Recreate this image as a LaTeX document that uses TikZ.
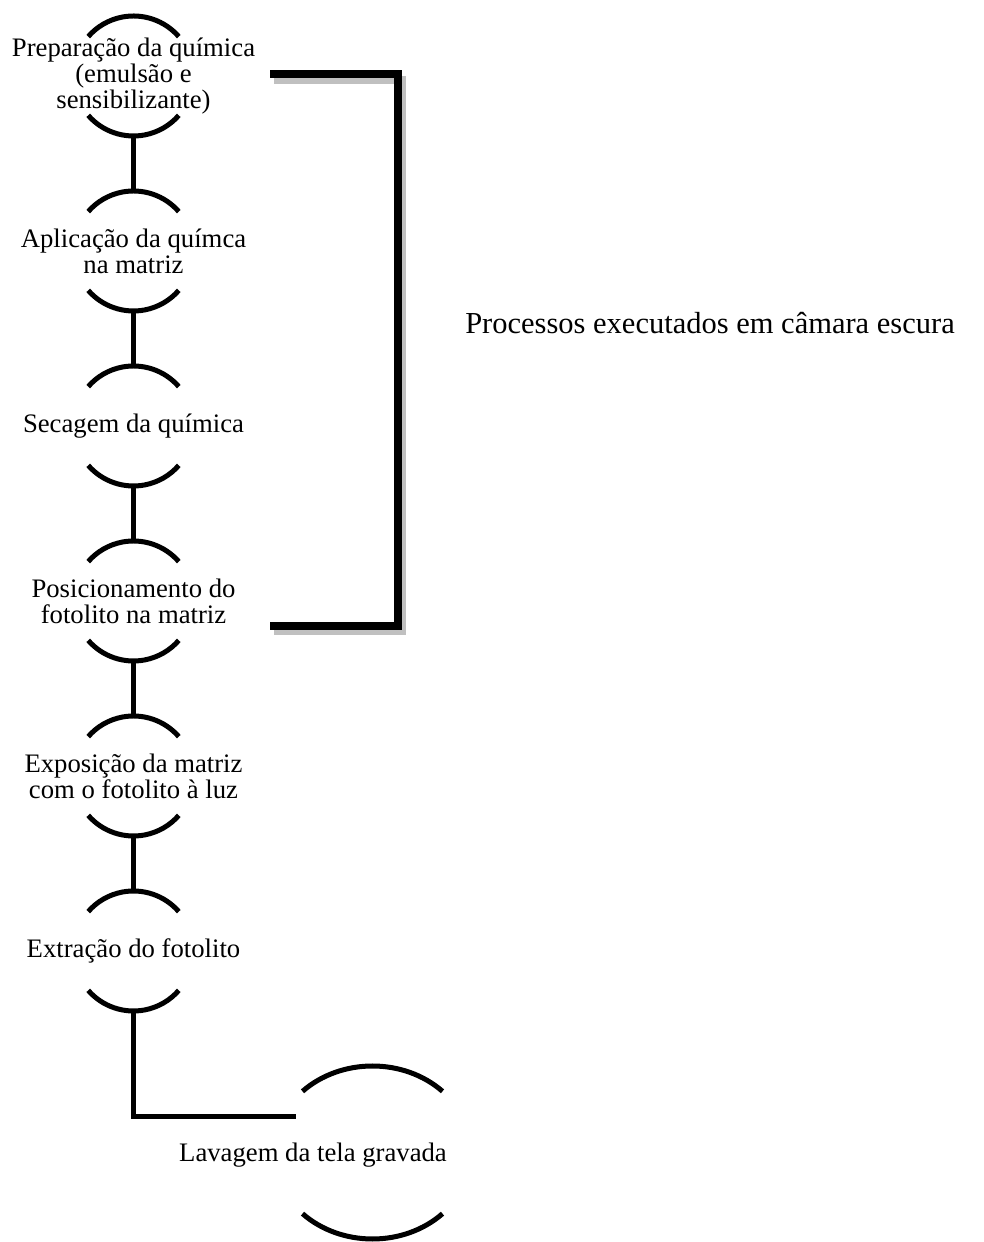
\documentclass[tikz,border=0pt]{standalone}
\usepackage{fontspec}
\setmainfont{Liberation Serif}
\definecolor{shadowgray}{RGB}{192,192,192}

% top and bottom rims of a process stage, centred on a named node
\newcommand\stagerims[1]{%
  \draw[rim] ([shift={(41:60)}]#1.center) arc[start angle=41,end angle=139,radius=60];
  \draw[rim] ([shift={(221:60)}]#1.center) arc[start angle=221,end angle=319,radius=60];
}

\begin{document}
\begin{tikzpicture}[x=1pt,y=1pt,
  stagetext/.style={align=center, inner sep=0pt, font=\fontsize{26.7}{26}\selectfont},
  notetext/.style={inner sep=0pt, font=\fontsize{30.5}{32}\selectfont},
  rim/.style={line width=5pt},
  link/.style={line width=5pt},
  bracketline/.style={line width=8pt, line join=miter},
  bracketshade/.style={line width=8pt, draw=shadowgray, line join=miter}
]
\useasboundingbox (0,0) rectangle (984,1242);

% process stages
\node[stagetext] (n1) at (133.5,1166) {Preparação da química\\(emulsão e\\sensibilizante)};
\node[stagetext] (n2) at (133.5,991) {Aplicação da químca\\na matriz};
\node[stagetext] (n3) at (133.5,816) {Secagem da química};
\node[stagetext] (n4) at (133.5,641) {Posicionamento do\\fotolito na matriz};
\node[stagetext] (n5) at (133.5,466) {Exposição da matriz\\com o fotolito à luz};
\node[stagetext] (n6) at (133.5,291) {Extração do fotolito};

\foreach \s in {n1,n2,n3,n4,n5,n6} {\stagerims{\s}}

% final stage: wider rims, text set to the left
\coordinate (lavc) at (372.5,89.5);
\node[stagetext, anchor=base] (lav) at (313,80) {Lavagem da tela gravada};
\draw[rim] ([shift={(45:99 and 86.5)}]lavc) arc[start angle=45,end angle=135,x radius=99,y radius=86.5];
\draw[rim] ([shift={(225:99 and 86.5)}]lavc) arc[start angle=225,end angle=315,x radius=99,y radius=86.5];
\coordinate (lavin) at (296,125);

% links between stages
\foreach \a/\b in {n1/n2,n2/n3,n3/n4,n4/n5,n5/n6}
  \draw[link] ([yshift=-60pt]\a.center) -- ([yshift=60pt]\b.center);
\draw[link] ([yshift=-60pt]n6.center) |- (lavin);

% bracket over the dark-room stages, with its shadow
\coordinate (bt) at (270,1167.5);
\coordinate (bb) at (270,616);
\draw[bracketshade] ([shift={(4,-5.5)}]bt) -| ([shift={(4,-5.5)}]bb -| 398,0) -- ([shift={(4,-5.5)}]bb);
\draw[bracketline] (bt) -| (398,616) -- (bb);
\node[notetext, anchor=base] (note) at (710,908) {Processos executados em câmara escura};
\end{tikzpicture}
\end{document}
